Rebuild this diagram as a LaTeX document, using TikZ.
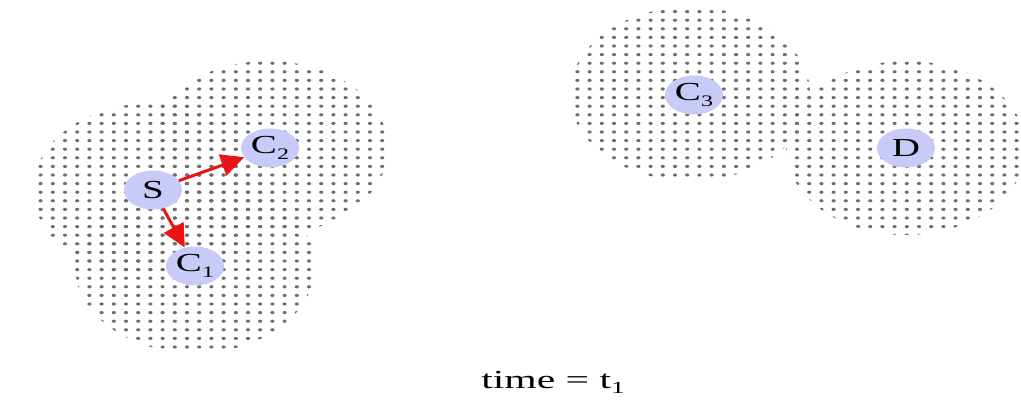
\documentclass[tikz,border=0pt]{standalone}
\usepackage{fontspec}
\setmainfont{Liberation Serif}
\usetikzlibrary{shapes.geometric,arrows.meta}
\definecolor{nodefill}{RGB}{200,202,248}
\definecolor{dotc}{RGB}{110,110,110}
\definecolor{arrred}{RGB}{235,20,20}
\newcommand{\dotdisk}[2]{%
  \begin{scope}
    \clip (#1,#2) ellipse [x radius=120, y radius=87];
    \pgfmathtruncatemacro{\ia}{(#1-124)/12.2}
    \pgfmathtruncatemacro{\ib}{(#1+124)/12.2+1}
    \pgfmathtruncatemacro{\ja}{(#2-91)/8.6}
    \pgfmathtruncatemacro{\jb}{(#2+91)/8.6+1}
    \foreach \i in {\ia,...,\ib}{
      \foreach \j in {\ja,...,\jb}{
        \fill[dotc] (12.2*\i+4,8.6*\j+3) ellipse [x radius=2.1, y radius=1.6];
      }
    }
  \end{scope}}
\newcommand{\lbl}[1]{\scalebox{1.5}[1]{\fontsize{26}{26}\selectfont #1}}
\newcommand{\sublbl}[2]{\scalebox{1.5}[1]{\fontsize{26}{26}\selectfont #1\raisebox{-6pt}{\fontsize{16}{16}\selectfont #2}}}
\begin{document}
\begin{tikzpicture}[x=1pt,y=-1pt,
  station/.style={ellipse, fill=nodefill, minimum width=58pt, minimum height=39pt, inner sep=0pt},
  link/.style={draw=arrred, line width=3pt, -{Triangle[length=23pt,width=22pt]}}]
\useasboundingbox (0,0) rectangle (1021,401);
% coverage disks
\dotdisk{153}{190}
\dotdisk{268}{148}
\dotdisk{195}{266}
\dotdisk{690}{94}
\dotdisk{906}{148}
% nodes
\node[station] (S) at (153,190) {\lbl{S}};
\node[station] (C2) at (270,148) {\sublbl{C}{2}};
\node[station] (C1) at (195,266) {\sublbl{C}{1}};
\node[station] (C3) at (694,95) {\sublbl{C}{3}};
\node[station] (D) at (906,148) {\lbl{D}};
% links
\draw[link] (S) -- (C2);
\draw[link] (S) -- (C1);
% caption
\node[anchor=base] (cap) at (553,388) {\scalebox{1.6}[1]{\fontsize{26}{26}\selectfont time = t\raisebox{-5pt}{\fontsize{17}{17}\selectfont 1}}};
\end{tikzpicture}
\end{document}
